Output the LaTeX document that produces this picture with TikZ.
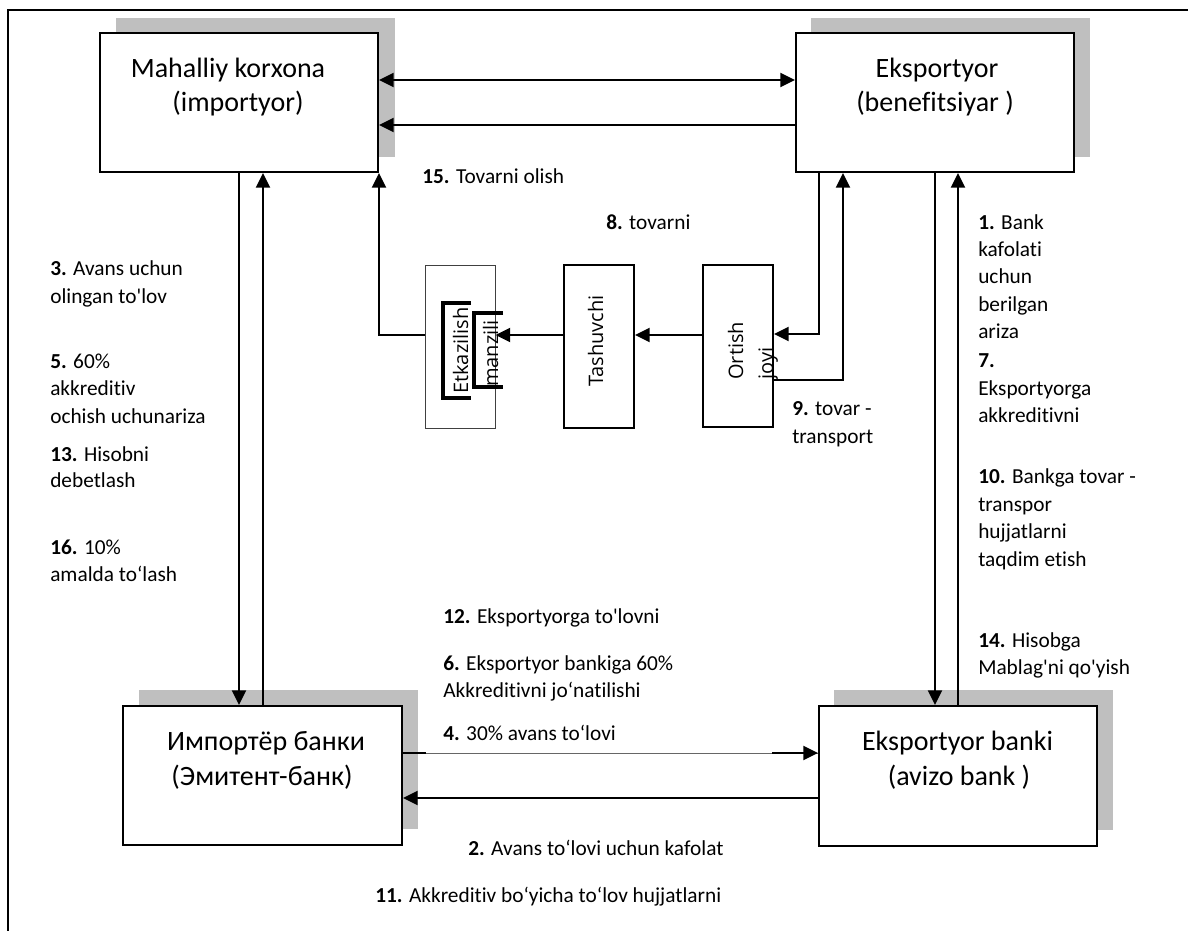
\documentclass[tikz,border=0pt]{standalone}
\usepackage{fontspec}
\setmainfont{Carlito}[Ligatures={TeXOff,CommonOff}]
\newfontfamily\osans{Open Sans}[Ligatures={TeXOff,CommonOff}]
\usetikzlibrary{arrows.meta,calc}
\definecolor{shadowgray}{RGB}{191,191,191}
\tikzset{
  box/.style={draw, line width=1.5pt, fill=white, inner sep=0pt},
  thinbox/.style={draw=black!75, line width=0.75pt, fill=white, inner sep=0pt},
  shadowbox/.style={fill=shadowgray},
  conn/.style={line width=1.5pt},
  arr/.style={conn, -{Triangle[length=11pt,width=10.5pt]}},
  dbl/.style={conn, {Triangle[length=11pt,width=10.5pt]}-{Triangle[length=11pt,width=10.5pt]}},
  lab/.style={anchor=base west, inner sep=0pt, font=\fontsize{16}{19}\selectfont},
  title/.style={anchor=base, inner sep=0pt, font=\fontsize{21}{25}\selectfont},
  vtext/.style={anchor=base west, inner sep=0pt, rotate=90, font=\osans\fontsize{15}{18}\selectfont},
}
\begin{document}
\begin{tikzpicture}[x=0.75pt,y=-0.75pt]
\useasboundingbox (0,0) rectangle (1188,931);
% frame (partly cut off)
\draw[line width=1.3pt] (8,931) -- (8,10) -- (1188,10);

% shadows
\path[shadowbox] (116,18) rectangle (395,157);
\path[shadowbox] (811,18) rectangle (1090,157);
\path[shadowbox] (139,690) rectangle (418,829);
\path[shadowbox] (834,690) rectangle (1113,830);

% main boxes
\node[box, minimum width=208.5pt, minimum height=104.25pt] (b1) at (239,102.5) {};
\node[box, minimum width=208.5pt, minimum height=104.25pt] (b2) at (935,102.5) {};
\node[box, minimum width=209.25pt, minimum height=104.25pt] (b3) at (262.5,775.5) {};
\node[box, minimum width=208.5pt, minimum height=105pt] (b4) at (958,776) {};

% titles
\node[title] (t1a) at (228,78) {Mahalliy korxona};
\node[title] (t1b) at (238,111) {(importyor)};
\node[title] (t2a) at (937,78) {Eksportyor};
\node[title] (t2b) at (935,111) {(benefitsiyar )};
\node[title] (t3a) at (266,750) {Импортёр банки};
\node[title] (t3b) at (262,785) {(Эмитент-банк)};
\node[title] (t4a) at (957.5,750) {Eksportyor banki};
\node[title] (t4b) at (959,785) {(avizo bank )};

% middle boxes
\node[thinbox, minimum width=52.5pt, minimum height=122.25pt] (etk) at (460,346.5) {};
\node[box, minimum width=52.5pt, minimum height=122.25pt] (tas) at (599,346.5) {};
\node[box, minimum width=52.5pt, minimum height=121.5pt] (ort) at (738,346) {};

\node[vtext] (v1) at (468,394) {Etkazilish};
\node[vtext] (v2) at (498,387) {manzili};
\node[vtext] (v3) at (603,387) {Tashuvchi};
\node[vtext] (v4) at (743,380) {Ortish};
\node[vtext] (v5) at (773,380) {joyi};
\draw[line width=2.3pt] (471,303) -- (443,303) -- (443,398) -- (471,398);
\draw[line width=2.3pt] (503,313) -- (474,313) -- (474,387) -- (503,387);

% connectors
\draw[dbl] (b1.east |- 0,80) -- (b2.west |- 0,80);
\draw[arr] (b2.west |- 0,125) -- (b1.east |- 0,125);
\draw[arr] (b1.south -| 239,0) -- (b3.north -| 239,0);
\draw[arr] (b3.north -| 263,0) -- (b1.south -| 263,0);
\draw[arr] (etk.west |- 0,335) -| (b1.south east);
\draw[arr] (b2.south -| 819,0) |- (ort.east |- 0,334);
\draw[arr] (ort.east |- 0,380) -| (b2.south -| 843,0);
\draw[arr] (ort.west |- 0,335) -- (tas.east |- 0,335);
\draw[arr] (tas.west |- 0,335) -- (etk.east |- 0,335);
\draw[arr] (b2.south -| 935,0) -- (b4.north -| 935,0);
\draw[arr] (b4.north -| 958,0) -- (b2.south -| 958,0);
\draw[line width=0.75pt, black!60] (b3.east |- 0,753) -- (b4.west |- 0,753);
\draw[conn] (b3.east |- 0,753) -- ++(23,0);
\draw[arr] ($(b4.west |- 0,753)+(-46,0)$) -- (b4.west |- 0,753);
\draw[arr] (b4.west |- 0,798) -- (b3.east |- 0,798);

% labels
\node[lab] (l15) at (422,183) {\textbf{15.} Tovarni olish};
\node[lab] (l8) at (606,229) {\textbf{8.} tovarni};
\node[lab] (l3a) at (50,275) {\textbf{3.} Avans uchun};
\node[lab] (l3b) at (50,303) {olingan to'lov};
\node[lab] (l5a) at (50,368) {\textbf{5.} 60\%};
\node[lab] (l5b) at (50,395) {akkreditiv};
\node[lab] (l5c) at (50,423) {ochish uchunariza};
\node[lab] (l13a) at (50,461) {\textbf{13.} Hisobni};
\node[lab] (l13b) at (50,487) {debetlash};
\node[lab] (l16a) at (50,554) {\textbf{16.} 10\%};
\node[lab] (l16b) at (50,581) {amalda to‘lash};

\node[lab] (l1a) at (978,229) {\textbf{1.} Bank};
\node[lab] (l1b) at (978,256) {kafolati};
\node[lab] (l1c) at (978,283) {uchun};
\node[lab] (l1d) at (978,311) {berilgan};
\node[lab] (l1e) at (978,338) {ariza};
\node[lab] (l7a) at (978,367) {\textbf{7.}};
\node[lab] (l7b) at (978,395) {Eksportyorga};
\node[lab] (l7c) at (978,422) {akkreditivni};
\node[lab] (l10a) at (978,483) {\textbf{10.} Bankga tovar -};
\node[lab] (l10b) at (978,511) {transpor};
\node[lab] (l10c) at (978,538) {hujjatlarni};
\node[lab] (l10d) at (978,566) {taqdim etish};
\node[lab] (l14a) at (978,647) {\textbf{14.} Hisobga};
\node[lab] (l14b) at (978,674) {Mablag'ni qo'yish};

\node[lab] (l9a) at (792,415) {\textbf{9.} tovar -};
\node[lab] (l9b) at (792,443) {transport};

\node[lab] (l12) at (443,623) {\textbf{12.} Eksportyorga to'lovni};
\node[lab] (l6a) at (443,670) {\textbf{6.} Eksportyor bankiga 60\%};
\node[lab] (l6b) at (443,697) {Akkreditivni jo‘natilishi};
\node[lab] (l4) at (443,740) {\textbf{4.} 30\% avans to‘lovi};
\node[lab] (l2) at (468,855) {\textbf{2.} Avans to‘lovi uchun kafolat};
\node[lab] (l11) at (375,902) {\textbf{11.} Akkreditiv bo‘yicha to‘lov hujjatlarni};
\end{tikzpicture}
\end{document}
